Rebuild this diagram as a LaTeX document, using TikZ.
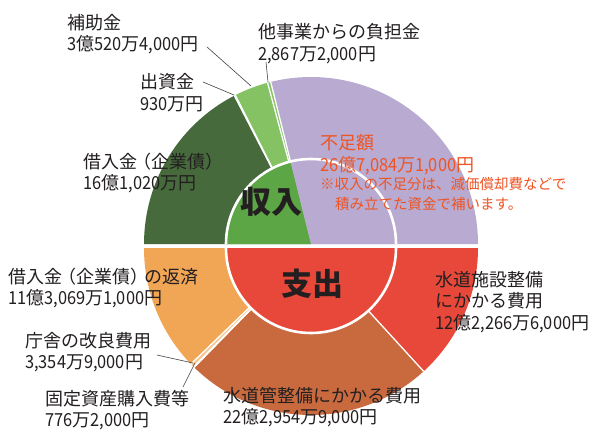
\documentclass[tikz,border=0pt]{standalone}
\usepackage{fontspec}
\setmainfont{Noto Sans CJK JP}
\newfontfamily\numf[FakeStretch=0.91]{Noto Sans CJK JP}
\usetikzlibrary{calc}
\definecolor{cPurple}{RGB}{184,170,208}
\definecolor{cLGreen}{RGB}{132,194,100}
\definecolor{cDGreen}{RGB}{70,106,60}
\definecolor{cIGreen}{RGB}{92,166,70}
\definecolor{cRed}{RGB}{231,72,58}
\definecolor{cBrown}{RGB}{201,106,62}
\definecolor{cPeach}{RGB}{246,196,140}
\definecolor{cOrange}{RGB}{241,166,86}
\definecolor{cTxt}{RGB}{35,31,32}
\definecolor{cNote}{RGB}{238,84,36}
\newcommand{\nm}[1]{{\numf #1}}
\newcommand{\mysector}[5]{\fill[#1] (#2) -- ($(#2)+(#3:#5)$) arc[start angle=#3, end angle=#4, radius=#5] -- cycle;}
\newcommand{\mysep}[2]{\draw[sepline] ($(#1)+(#2:85)$) -- ($(#1)+(#2:167)$);}
\begin{document}
\begin{tikzpicture}[x=1pt,y=1pt,
  sepline/.style={white, line width=1.3pt},
  inarc/.style={white, line width=2.6pt},
  lab/.style={font=\fontsize{18}{21.5}\selectfont, align=left, inner sep=0pt, anchor=west, text=cTxt},
  notelab/.style={font=\fontsize{14.5}{20}\selectfont, align=left, inner sep=0pt, anchor=west, text=cNote},
  big/.style={font=\fontsize{31}{31}\selectfont\bfseries, inner sep=0pt, text=cTxt},
  leader/.style={draw=cTxt!85, line width=0.6pt}]
\useasboundingbox (0,0) rectangle (593,432);
\fill[white] (0,0) rectangle (593,432);
\coordinate (U) at (311,188);
\coordinate (L) at (311,184);
% ---- income (upper half)
\mysector{cPurple}{U}{0}{103.964}{167}
\mysector{cLGreen}{U}{103.964}{117.322}{167}
\mysector{cDGreen}{U}{117.322}{180}{167}
\mysep{U}{103.964}
\mysep{U}{105.080}
\mysep{U}{116.960}
\mysep{U}{117.322}
\mysector{cIGreen}{U}{103.964}{180}{85}
\mysector{cPurple}{U}{0}{103.964}{85}
\draw[inarc] ($(U)+(0:85)$) arc[start angle=0, end angle=180, radius=85];
% ---- expenditure (lower half)
\mysector{cRed}{L}{-47.593}{0}{167}
\mysector{cBrown}{L}{-134.379}{-47.593}{167}
\mysector{cPeach}{L}{-135.987}{-134.379}{167}
\mysector{cOrange}{L}{-180}{-135.987}{167}
\mysep{L}{-47.593}
\mysep{L}{-134.379}
\mysep{L}{-134.681}
\mysep{L}{-135.987}
\mysector{cRed}{L}{-180}{0}{85}
\draw[inarc] ($(L)+(-180:85)$) arc[start angle=-180, end angle=0, radius=85];
% ---- centre titles
\node[big] (inc) at (271,230) {収入};
\node[big] (exp) at (312,148) {支出};
% ---- labels
\node[lab] (hojo) at (67,398) {補助金\\\nm{3}億\nm{520}万\nm{4,000}円};
\node[lab] (tajigyo) at (258,388.5) {他事業からの負担金\\\nm{2,867}万\nm{2,000}円};
\node[lab] (shusshi) at (140,339.5) {出資金\\\nm{930}万円};
\node[lab] (kariire) at (83,259) {借入金\kern-4pt（企業債）\\\nm{16}億\nm{1,020}万円};
\node[lab, text=cNote] (fusoku) at (320,277.5) {不足額\\\nm{26}億\nm{7,084}万\nm{1,000}円};
\node[notelab] (note) at (320,238) {※収入の不足分は、減価償却費などで\\\hspace*{15pt}積み立てた資金で補います。};
\node[lab] (shisetsu) at (435,130) {水道施設整備\\にかかる費用\\\nm{12}億\nm{2,266}万\nm{6,000}円};
\node[lab] (hensai) at (8,144) {借入金\kern-4pt（企業債）\kern-4pt の返済\\\nm{11}億\nm{3,069}万\nm{1,000}円};
\node[lab] (chosha) at (25,80) {庁舎の改良費用\\\nm{3,354}万\nm{9,000}円};
\node[lab] (kotei) at (45,22) {固定資産購入費等\\\nm{776}万\nm{2,000}円};
\node[lab] (kanro) at (223,25) {水道管整備にかかる費用\\\nm{22}億\nm{2,954}万\nm{9,000}円};
% ---- leader lines
\coordinate (h1) at (207,385); \coordinate (h2) at (251,346);
\coordinate (s1) at (203,350); \coordinate (s2) at (234,337);
\coordinate (t1) at (266,370); \coordinate (t2) at (268,350);
\coordinate (c1) at (157,77);  \coordinate (c2) at (193,69);
\coordinate (k1) at (183,45);  \coordinate (k2) at (195,69);
\draw[leader] (h1) -- (h2);
\draw[leader] (s1) -- (s2);
\draw[leader] (t1) -- (t2);
\draw[leader] (c1) -- (c2);
\draw[leader] (k1) -- (k2);
\end{tikzpicture}
\end{document}
